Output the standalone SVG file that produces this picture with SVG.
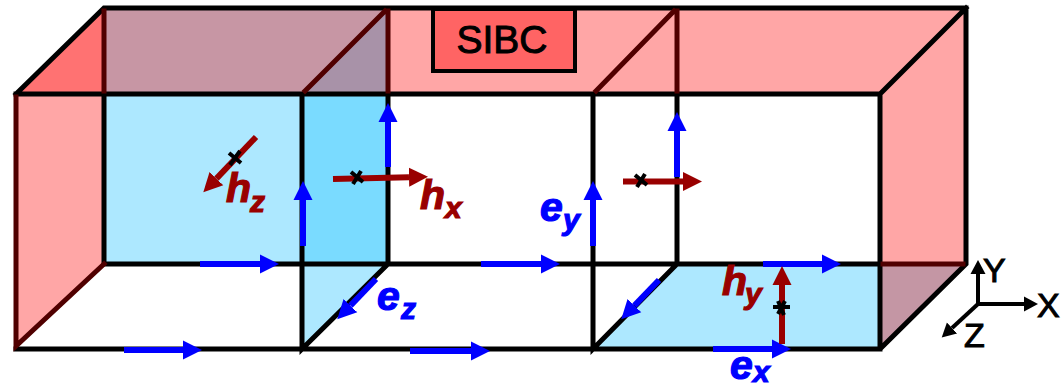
<svg xmlns="http://www.w3.org/2000/svg" width="1061" height="389" viewBox="0 0 1061 389">
<style>
.k{stroke:#000;stroke-width:5;fill:none;stroke-linecap:square}
.d{stroke:#500000;stroke-width:5;fill:none;stroke-linecap:square}
.b{stroke:#0000ff;stroke-width:6;fill:none;marker-end:url(#mb)}
.r{stroke:#990000;stroke-width:6;fill:none;marker-end:url(#mr)}
.a{stroke:#000;stroke-width:4;fill:none;marker-end:url(#ma)}
.x{stroke:#000;stroke-width:4;fill:none}
.t{font-family:"Liberation Sans",Arial,sans-serif;stroke:#000;stroke-width:1}
.lb{font-family:"Liberation Sans",Arial,sans-serif;font-weight:bold;font-style:italic;font-size:41px;stroke-width:1.2}
.sb{font-family:"Liberation Sans",Arial,sans-serif;font-weight:bold;font-style:italic;font-size:30px;stroke-width:1.2}
.eb{fill:#0000ff;stroke:#0000ff}
.hr{fill:#990000;stroke:#990000}
</style>
<defs>
<marker id="mb" markerUnits="userSpaceOnUse" markerWidth="20" markerHeight="20" refX="0" refY="10" orient="auto"><path d="M0 .5L19 10L0 19.500z" fill="#0000ff"/></marker>
<marker id="mr" markerUnits="userSpaceOnUse" markerWidth="20" markerHeight="20" refX="0" refY="10" orient="auto"><path d="M0 .5L19 10L0 19.500z" fill="#990000"/></marker>
<marker id="ma" markerUnits="userSpaceOnUse" markerWidth="15" markerHeight="18" refX="0" refY="9" orient="auto"><path d="M0 1.500L14 9L0 16.500z" fill="#000"/></marker>
</defs>
<g id="faces">
<polygon points="104,8 966,8 880,94 16,94" fill="#ffa6a6"/>
<polygon points="16,94 104,94 104,264 16,349" fill="#ffa6a6"/>
<polygon points="880,94 966,8 966,264 880,264" fill="#ffa6a6"/>
<polygon points="16,94 104,8 104,94" fill="#ff7272"/>
<polygon points="104,8 388,8 388,94 104,94" fill="#c796a4"/>
<polygon points="302,94 388,8 388,94" fill="#a892a8"/>
<rect x="104" y="94" width="198" height="170" fill="#ade8ff"/>
<rect x="302" y="94" width="86" height="170" fill="#7adbff"/>
<polygon points="302,264 388,264 302,349" fill="#ade8ff"/>
<polygon points="677,264 880,264 880,349 593,349" fill="#ade8ff"/>
<polygon points="880,264 966,264 880,349" fill="#c496a4"/>
</g>
<g id="edges">
<path class="k" d="M16 94L104 8H966V264L880 349H16M16 94H880L966 8M880 94V349M104 94V264H880M302 94V349L388 264V94M593 94V349L677 264V94"/>
<path class="d" d="M104 11V91M305 91L385 11M388 11V91M596 91L674 11M677 11V91M16 97V346L104 264M883 264H963"/>
</g>
<g id="sibc">
<rect x="433" y="9" width="142" height="62" fill="#ff6464" stroke="#000" stroke-width="4"/>
<text class="t" x="502" y="53" font-size="39" text-anchor="middle">SIBC</text>
</g>
<g id="connectors">
<path class="b" d="M200 264H260"/>
<path class="b" d="M124 350H183"/>
<path class="b" d="M481 264H541"/>
<path class="b" d="M410 351H471"/>
<path class="b" d="M763 264H822"/>
<path class="b" d="M713 349H772"/>
<path class="b" d="M303 246V200"/>
<path class="b" d="M388 167V122"/>
<path class="b" d="M593 246V200"/>
<path class="b" d="M677 177V131"/>
<path class="b" d="M376 279L350.400 305.600"/>
<path class="b" d="M659 280L634.400 305.600"/>
<path class="r" d="M256 137L216.400 178.600"/>
<path class="r" d="M333 179L409 177.200"/>
<path class="r" d="M623 181.500H683"/>
<path class="r" d="M782 344V285"/>
<path class="x" d="M229 153L241 163M240 151L230 165"/>
<path class="x" d="M351 172L363 182M361 171L353 184"/>
<path class="x" d="M635 175L647 185M645 174L637 187"/>
<path class="x" d="M773 307H790M778 301L784 315M785 301L778 314"/>
<path class="a" d="M978 304V274"/>
<path class="a" d="M978 304H1024"/>
<path class="a" d="M978 304L952 328"/>
</g>
<g id="labels">
<text class="lb hr" x="226" y="202">h</text><text class="sb hr" x="250" y="212">z</text>
<text class="lb hr" x="420" y="209">h</text><text class="sb hr" x="445" y="218">x</text>
<text class="lb eb" x="540" y="221">e</text><text class="sb eb" x="563" y="230">y</text>
<text class="lb eb" x="377" y="310">e</text><text class="sb eb" x="401" y="319">z</text>
<text class="lb hr" x="722" y="295">h</text><text class="sb hr" x="745" y="304">y</text>
<text class="lb eb" x="730" y="379">e</text><text class="sb eb" x="753" y="382">x</text>
<text class="t" x="983" y="282" font-size="34">Y</text>
<text class="t" x="1037" y="317" font-size="34">X</text>
<text class="t" x="964" y="347" font-size="34">Z</text>
</g>
</svg>
